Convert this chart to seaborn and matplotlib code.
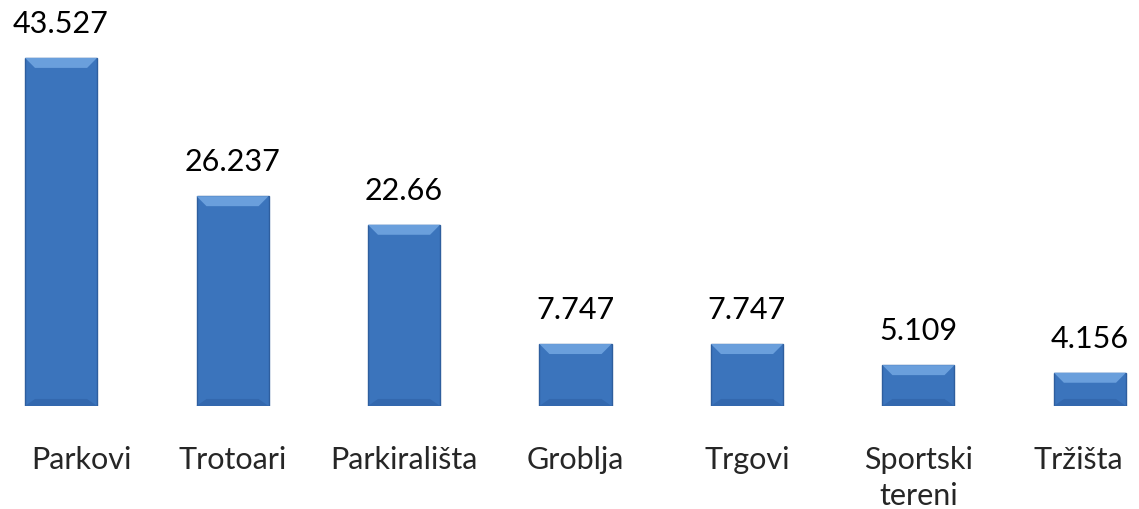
import matplotlib.pyplot as plt
import matplotlib.transforms as mtransforms
import seaborn as sns
import pandas as pd
from matplotlib.patches import Polygon

# data
categories = ['Parkovi', 'Trotoari', 'Parkirališta', 'Groblja', 'Trgovi', 'Sportski\ntereni', 'Tržišta']
values = [43.527, 26.237, 22.66, 7.747, 7.747, 5.109, 4.156]
value_labels = ['43.527', '26.237', '22.66', '7.747', '7.747', '5.109', '4.156']

df = pd.DataFrame({'category': categories, 'value': values})

sns.set_style('white')
plt.rcParams['font.family'] = ['Lato', 'DejaVu Sans']

fig = plt.figure(figsize=(11.39, 5.10), dpi=100)
ax = fig.add_axes([0, 0.202, 1, 0.784])

sns.barplot(data=df, x='category', y='value', color='#3B74BC', width=0.42,
            saturation=1, edgecolor='#2E5E9E', linewidth=1, ax=ax)

# simple bevel look: light top edge, darker bottom edge
bx, by = 0.058, 1.25
for p in list(ax.patches):
    x0, x1 = p.get_x(), p.get_x() + p.get_width()
    h = p.get_height()
    ax.add_patch(Polygon([(x0, h), (x1, h), (x1 - bx, h - by), (x0 + bx, h - by)],
                         closed=True, facecolor='#6A9FDC', edgecolor='none', zorder=3))
    ax.add_patch(Polygon([(x0, 0), (x1, 0), (x1 - bx, by * 0.7), (x0 + bx, by * 0.7)],
                         closed=True, facecolor='#3368AE', edgecolor='none', zorder=3))

for p, lab in zip(ax.patches, value_labels):
    ax.annotate(lab, (p.get_x() + p.get_width() / 2, p.get_height()),
                ha='center', va='bottom', xytext=(0, 15), textcoords='offset points',
                fontsize=22, color='#000000')

ax.set_xlim(-0.356, 6.286)
ax.set_ylim(0, 50)
ax.set_xlabel('')
ax.set_ylabel('')
ax.set_yticks([])
ax.tick_params(axis='x', length=0, pad=28, labelsize=22)
ticklabels = ax.get_xticklabels()
for lbl in ticklabels:
    lbl.set_verticalalignment('top')
    lbl.set_linespacing(1.35)
# end labels are nudged inward so they stay inside the figure
ticklabels[0].set_transform(ticklabels[0].get_transform() +
                            mtransforms.ScaledTranslation(0.20, 0, fig.dpi_scale_trans))
ticklabels[-1].set_transform(ticklabels[-1].get_transform() +
                             mtransforms.ScaledTranslation(-0.12, 0, fig.dpi_scale_trans))
sns.despine(left=True, bottom=True)

plt.savefig('out.png', dpi=100)
